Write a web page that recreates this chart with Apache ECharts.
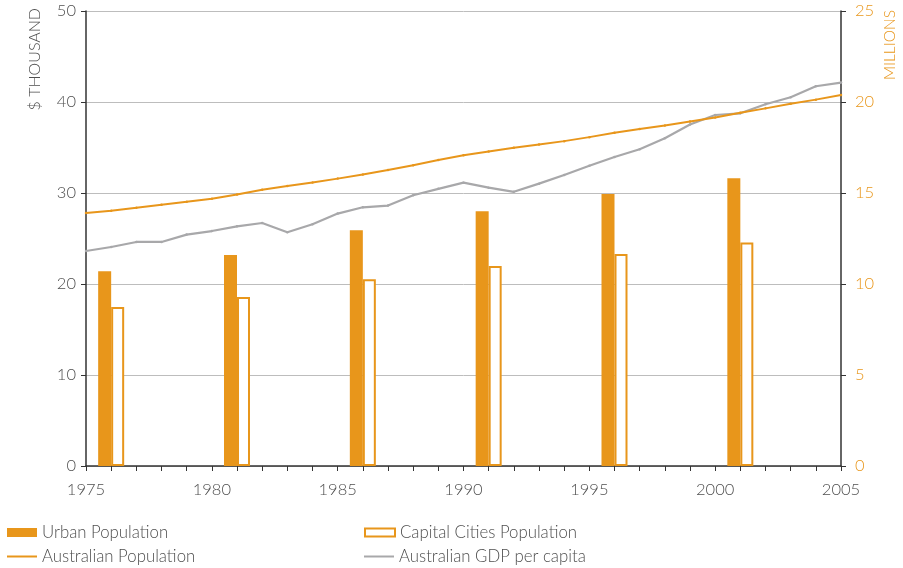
<!DOCTYPE html>
<html>
<head>
<meta charset="utf-8">
<script src="https://cdn.jsdelivr.net/npm/echarts@6/dist/echarts.min.js"></script>
<style>html,body{margin:0;padding:0;background:#fff}#c{width:903px;height:568px}</style>
</head>
<body>
<div id="c"></div>
<script>
// Census years for bars
const censusYears = [1976, 1981, 1986, 1991, 1996, 2001];
// Millions (right axis)
const urbanPopulation = [10.7, 11.6, 12.95, 14.0, 14.95, 15.81];
const capitalCitiesPopulation = [8.74, 9.29, 10.26, 10.99, 11.65, 12.28];
// Yearly series
const years = [1975,1976,1977,1978,1979,1980,1981,1982,1983,1984,1985,1986,1987,1988,1989,1990,1991,1992,1993,1994,1995,1996,1997,1998,1999,2000,2001,2002,2003,2004,2005];
// Millions (right axis)
const australianPopulation = [13.9,14.03,14.19,14.36,14.52,14.69,14.92,15.18,15.39,15.58,15.79,16.02,16.26,16.53,16.81,17.07,17.28,17.49,17.67,17.85,18.07,18.31,18.52,18.71,18.93,19.15,19.41,19.65,19.90,20.13,20.39];
// $ thousand (left axis)
const gdpPerCapita = [23.63,24.07,24.62,24.62,25.43,25.82,26.34,26.70,25.68,26.56,27.74,28.43,28.62,29.75,30.46,31.14,30.59,30.13,31.03,31.98,32.99,33.96,34.80,36.01,37.52,38.57,38.76,39.75,40.52,41.73,42.13];
const leftTicks = {min: 0, max: 50, interval: 10};
const rightTicks = {min: 0, max: 25, interval: 5};

const ORANGE = '#E8961B';
const GRAY = '#A8A8AA';
const TEXT = '#4F4F4F';
const FONT = 'Lato';
const FW = 300;

const chart = echarts.init(document.getElementById('c'), null, {renderer: 'canvas'});
const zip = (xs, ys) => xs.map((x, i) => [x, ys[i]]);
const legendText = {color: TEXT, fontSize: 16.8, fontFamily: FONT, fontWeight: FW};

chart.setOption({
  animation: false,
  textStyle: {fontFamily: FONT, fontWeight: FW},
  grid: {left: 86, right: 62, top: 11, bottom: 102},
  xAxis: {
    type: 'value', min: 1975, max: 2005, interval: 5,
    axisLine: {show: true, lineStyle: {color: '#333', width: 1.5}},
    axisTick: {show: true, length: 5, lineStyle: {color: '#333'}},
    minorTick: {show: true, splitNumber: 5, length: 5, lineStyle: {color: '#333'}},
    splitLine: {show: false},
    axisLabel: {formatter: v => String(v), color: TEXT, fontSize: 16.5, margin: 15, fontFamily: FONT, fontWeight: FW}
  },
  yAxis: [
    {
      type: 'value', min: leftTicks.min, max: leftTicks.max, interval: leftTicks.interval,
      position: 'left',
      axisLine: {show: true, lineStyle: {color: '#333', width: 1.5}},
      axisTick: {show: true, length: 5, lineStyle: {color: '#333'}},
      splitLine: {show: true, lineStyle: {color: '#BDBDBD', width: 1}},
      axisLabel: {color: TEXT, fontSize: 16.5, margin: 10, fontFamily: FONT, fontWeight: FW}
    },
    {
      type: 'value', min: rightTicks.min, max: rightTicks.max, interval: rightTicks.interval,
      position: 'right',
      axisLine: {show: true, lineStyle: {color: '#333', width: 1.5}},
      axisTick: {show: true, length: 5, lineStyle: {color: '#333'}},
      splitLine: {show: false},
      axisLabel: {color: ORANGE, fontSize: 16.5, margin: 14, fontFamily: FONT, fontWeight: FW}
    }
  ],
  legend: [
    {left: 7, top: 524, padding: 0, itemWidth: 30, itemHeight: 9, textStyle: legendText,
     data: [{name: 'Urban Population', icon: 'rect'}]},
    {left: 364, top: 524, padding: 0, itemWidth: 30, itemHeight: 8, textStyle: legendText,
     data: [{name: 'Capital Cities Population', icon: 'rect', itemStyle: {color: '#fff', borderColor: ORANGE, borderWidth: 2}}]},
    {left: 7, top: 548, padding: 0, itemWidth: 30, itemHeight: 2, textStyle: legendText,
     data: [{name: 'Australian Population', icon: 'rect', itemStyle: {color: ORANGE}}]},
    {left: 364, top: 548, padding: 0, itemWidth: 30, itemHeight: 2, textStyle: legendText,
     data: [{name: 'Australian GDP per capita', icon: 'rect', itemStyle: {color: GRAY}}]}
  ],
  graphic: [
    {type: 'text', x: 35, y: 8, rotation: Math.PI / 2,
     style: {text: '$ THOUSAND', fill: TEXT, font: '300 16px Lato', align: 'right', verticalAlign: 'middle'}},
    {type: 'text', x: 890, y: 10, rotation: Math.PI / 2,
     style: {text: 'MILLIONS', fill: ORANGE, font: '300 15.5px Lato', align: 'right', verticalAlign: 'middle'}}
  ],
  series: [
    {name: 'Urban Population', type: 'bar', yAxisIndex: 1, barWidth: 13, barGap: '0%',
     itemStyle: {color: ORANGE}, data: zip(censusYears, urbanPopulation)},
    {name: 'Capital Cities Population', type: 'bar', yAxisIndex: 1, barWidth: 13, barGap: '0%',
     itemStyle: {color: '#fff', borderColor: ORANGE, borderWidth: 2}, data: zip(censusYears, capitalCitiesPopulation)},
    {name: 'Australian Population', type: 'line', yAxisIndex: 1, symbol: 'circle', symbolSize: 2.5,
     itemStyle: {color: ORANGE}, lineStyle: {color: ORANGE, width: 2}, data: zip(years, australianPopulation), z: 3},
    {name: 'Australian GDP per capita', type: 'line', yAxisIndex: 0, symbol: 'circle', symbolSize: 2.5,
     itemStyle: {color: GRAY}, lineStyle: {color: GRAY, width: 2.2}, data: zip(years, gdpPerCapita), z: 2}
  ]
});
</script>
</body>
</html>
